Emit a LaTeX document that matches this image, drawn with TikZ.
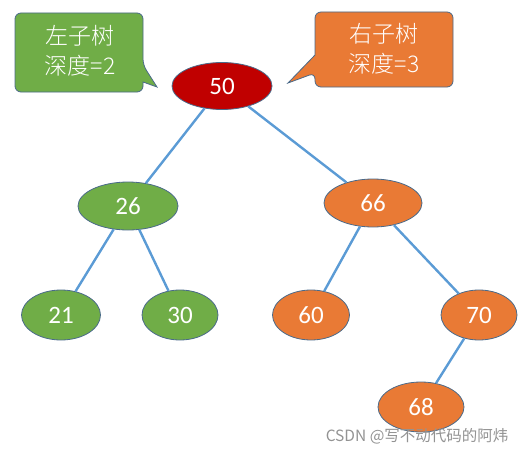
\documentclass[tikz,border=0pt]{standalone}
\usepackage{fontspec}
\setmainfont{Carlito}
\newfontfamily\cjk{Noto Sans CJK SC}
\newfontfamily\cjkl{Noto Sans CJK SC}[UprightFont=* Light]
\usetikzlibrary{shapes.geometric}
\definecolor{gfill}{HTML}{70AD47}
\definecolor{ofill}{HTML}{E97A35}
\definecolor{rfill}{HTML}{C00000}
\definecolor{bord}{HTML}{4A6A8A}
\definecolor{edge}{HTML}{5B9BD5}
\tikzset{
  tn/.style={ellipse, draw=bord, line width=0.8pt, text=white, inner sep=0pt,
    font=\fontsize{25}{28}\selectfont},
  gn/.style={tn, fill=gfill},
  on/.style={tn, fill=ofill},
  link/.style={draw=edge, line width=2.4pt},
  callout/.style={draw=bord, line width=0.8pt, rounded corners=6pt},
  ctext/.style={text=white, align=center, font=\cjkl\fontsize{23}{30}\selectfont}
}
\begin{document}
\begin{tikzpicture}[x=1pt,y=-1pt]
\useasboundingbox (0,0) rectangle (526,452);
% callouts
\draw[callout, fill=gfill] (15,13) -- (143,13) -- (143,65) [sharp corners]-- (157,87) -- (143,82) [rounded corners=6pt]-- (143,92) -- (15,92) -- cycle;
\node[ctext] (lc) at (80,51) {左子树\\深度=2};
\draw[callout, fill=ofill] (315,12) -- (453,12) -- (453,87) -- (315,87) -- (315,73) [sharp corners]-- (288,83) -- (315,55) [rounded corners=6pt]-- cycle;
\node[ctext] (rc) at (384,49) {右子树\\深度=3};
% nodes
\node[tn, fill=rfill, minimum width=100pt, minimum height=47pt] (n50) at (222,86) {50};
\node[gn, minimum width=100pt, minimum height=48pt] (n26) at (128,206) {26};
\node[on, minimum width=98pt, minimum height=48pt] (n66) at (373,203) {66};
\node[gn, minimum width=79pt, minimum height=50pt] (n21) at (61,315) {21};
\node[gn, minimum width=76pt, minimum height=50pt] (n30) at (180,315) {30};
\node[on, minimum width=77pt, minimum height=50pt] (n60) at (311,315) {60};
\node[on, minimum width=76pt, minimum height=50pt] (n70) at (479,315) {70};
\node[on, minimum width=86pt, minimum height=50pt] (n68) at (421,407) {68};
% edges
\path[link] (n50) -- (n26);
\path[link] (n50) -- (n66);
\path[link] (n26) -- (n21);
\path[link] (n26) -- (n30);
\path[link] (n66) -- (n60);
\path[link] (n66) -- (n70);
\path[link] (n70) -- (n68);
% watermark
\node[text=gray!85, font=\cjk\fontsize{15.5}{18}\selectfont, anchor=east] (wm) at (512,436) {CSDN @写不动代码的阿炜};
\end{tikzpicture}
\end{document}
